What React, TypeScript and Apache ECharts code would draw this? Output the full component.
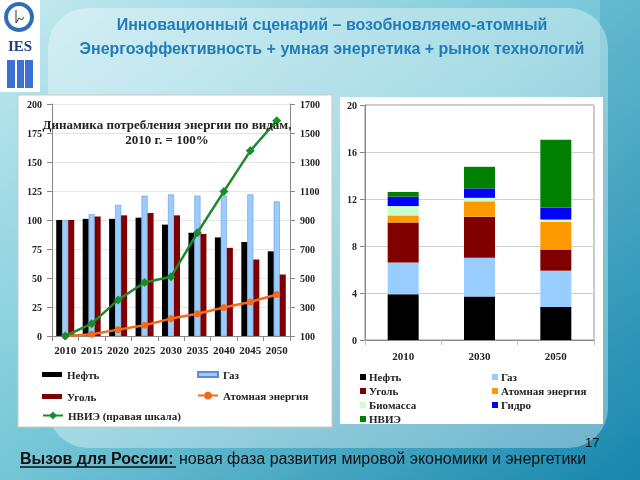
import React, { useEffect, useRef } from "react";
import * as echarts from "echarts";

const years = ["2010", "2015", "2020", "2025", "2030", "2035", "2040", "2045", "2050"];
const oil = [100, 101, 101, 102, 96, 89, 85, 81, 73];
const gas = [100, 105, 113, 121, 122, 121, 121, 122, 116];
const coal = [100, 103, 104, 106, 104, 88, 76, 66, 53];
const nuclear = [100, 112, 144, 174, 220, 254, 296, 335, 386];
const renew = [100, 185, 349, 469, 508, 812, 1097, 1377, 1585];

const leftTicks = [0, 200, 25];
const rightTicks = [100, 1700, 200];

const years3 = ["2010", "2030", "2050"];
const stackNames = ["Нефть", "Газ", "Уголь", "Атомная энергия", "Биомасса", "Гидро", "НВИЭ"];
const stackColors = ["#000000", "#99ccff", "#800000", "#ff9900", "#ccffcc", "#0000ff", "#008000"];
const oil2 = [3.9, 3.7, 2.8];
const gas2 = [2.7, 3.3, 3.1];
const coal2 = [3.4, 3.5, 1.8];
const nuc2 = [0.6, 1.3, 2.35];
const bio2 = [0.8, 0.3, 0.2];
const hydro2 = [0.8, 0.8, 1.0];
const renew2 = [0.4, 1.84, 5.8];
const stackData = [oil2, gas2, coal2, nuc2, bio2, hydro2, renew2];

const SERIF = '"Liberation Serif", "DejaVu Serif", serif';
const SANS = '"Liberation Sans", Arial, sans-serif';

export default function App() {
  const ref = useRef<HTMLDivElement>(null);
  useEffect(() => {
    if (!ref.current) return;
    const chart = echarts.init(ref.current, undefined, { renderer: "svg" });

    const axisLabel = { fontFamily: SERIF, fontWeight: "bold" as const, fontSize: 10, color: "#222" };
    const axisLine = { show: true, lineStyle: { color: "#888" } };

    const leftLegend = (name: string, left: number, top: number, icon?: string, w = 20, h = 5) => ({
      data: [icon ? { name, icon } : { name }],
      left,
      top,
      itemWidth: w,
      itemHeight: h,
      itemGap: 4,
      textStyle: { fontFamily: SERIF, fontWeight: "bold", fontSize: 11, color: "#222" },
      selectedMode: false,
    });

    const rightLegendCols = [360, 492];
    const rightLegendRows = [377, 391, 405, 419];
    const rightLegendGraphics: any[] = [];
    stackNames.forEach((n, i) => {
      const col = i % 2;
      const row = Math.floor(i / 2);
      const x = rightLegendCols[col];
      const y = rightLegendRows[row];
      rightLegendGraphics.push({
        type: "rect",
        shape: { x: x, y: y - 3, width: 6, height: 6 },
        style: { fill: stackColors[i] },
        z: 10,
      });
      rightLegendGraphics.push({
        type: "text",
        x: x + 9,
        y: y,
        style: {
          text: n,
          font: `bold 11px ${SERIF}`,
          fill: "#222",
          verticalAlign: "middle",
        },
        z: 10,
      });
    });

    const option: any = {
      animation: false,
      graphic: [
        {
          type: "rect",
          shape: { x: 0, y: 0, width: 640, height: 480 },
          style: {
            fill: new echarts.graphic.LinearGradient(0, 0, 1, 1, [
              { offset: 0, color: "#c4eaf0" },
              { offset: 0.5, color: "#74c6d6" },
              { offset: 1, color: "#1585ad" },
            ]),
          },
          z: -20,
        },
        {
          type: "rect",
          shape: { x: 600, y: 0, width: 40, height: 480 },
          style: { fill: "rgba(40,140,180,0.25)" },
          z: -19,
        },
        {
          type: "rect",
          shape: { x: 48, y: 8, width: 560, height: 440, r: 40 },
          style: { fill: "rgba(255,255,255,0.35)" },
          z: -18,
        },
        {
          type: "rect",
          shape: { x: 0, y: 0, width: 40, height: 92 },
          style: { fill: "#ffffff" },
          z: -17,
        },
        {
          type: "ring",
          shape: { cx: 19, cy: 17, r: 15, r0: 11 },
          style: { fill: "#2e6db8" },
          z: 5,
        },
        {
          type: "polyline",
          shape: { points: [[16, 10], [16, 23], [19, 18], [22, 20], [24, 17]] },
          style: { stroke: "#333", lineWidth: 1, fill: null },
          z: 5,
        },
        {
          type: "text",
          x: 20,
          y: 46,
          style: { text: "IES", font: `bold 15px ${SERIF}`, fill: "#1f3f7a", align: "center", verticalAlign: "middle" },
          z: 5,
        },
        { type: "rect", shape: { x: 7, y: 60, width: 8, height: 28 }, style: { fill: "#3d6fd6" }, z: 5 },
        { type: "rect", shape: { x: 17, y: 60, width: 7, height: 28 }, style: { fill: "#3d6fd6" }, z: 5 },
        { type: "rect", shape: { x: 25, y: 60, width: 8, height: 28 }, style: { fill: "#3d6fd6" }, z: 5 },
        {
          type: "text",
          x: 332,
          y: 24,
          style: {
            text: "Инновационный сценарий – возобновляемо-атомный",
            font: `bold 16px ${SANS}`,
            fill: "#1f7cb8",
            align: "center",
            verticalAlign: "middle",
          },
          z: 5,
        },
        {
          type: "text",
          x: 332,
          y: 48,
          style: {
            text: "Энергоэффективность + умная энергетика + рынок технологий",
            font: `bold 16px ${SANS}`,
            fill: "#1f7cb8",
            align: "center",
            verticalAlign: "middle",
          },
          z: 5,
        },
        {
          type: "rect",
          shape: { x: 18, y: 95, width: 314, height: 332 },
          style: { fill: "#ffffff", stroke: "#c8c8c8", lineWidth: 1 },
          z: -5,
        },
        {
          type: "rect",
          shape: { x: 340, y: 97, width: 263, height: 327 },
          style: { fill: "#ffffff" },
          z: -5,
        },
        {
          type: "text",
          x: 167,
          y: 124,
          style: {
            text: "Динамика потребления энергии по видам,",
            font: `bold 13px ${SERIF}`,
            fill: "#222",
            align: "center",
            verticalAlign: "middle",
          },
          z: 20,
        },
        {
          type: "text",
          x: 167,
          y: 139,
          style: {
            text: "2010 г. = 100%",
            font: `bold 13px ${SERIF}`,
            fill: "#222",
            align: "center",
            verticalAlign: "middle",
          },
          z: 20,
        },
        {
          type: "text",
          x: 20,
          y: 458,
          style: {
            text: "Вызов для России:",
            font: `bold 16px ${SANS}`,
            fill: "#111",
            verticalAlign: "middle",
          },
          z: 5,
        },
        {
          type: "line",
          shape: { x1: 20, y1: 467, x2: 176, y2: 467 },
          style: { stroke: "#111", lineWidth: 1.3 },
          z: 5,
        },
        {
          type: "text",
          x: 179,
          y: 458,
          style: {
            text: "новая фаза развития мировой экономики и энергетики",
            font: `16px ${SANS}`,
            fill: "#111",
            verticalAlign: "middle",
          },
          z: 5,
        },
        {
          type: "text",
          x: 585,
          y: 442,
          style: { text: "17", font: `13px ${SANS}`, fill: "#111", verticalAlign: "middle" },
          z: 5,
        },
        ...rightLegendGraphics,
      ],
      legend: [
        leftLegend("Нефть", 37, 364, "rect"),
        leftLegend("Газ", 192, 364, "rect"),
        leftLegend("Уголь", 37, 386, "rect"),
        leftLegend("Атомная энергия", 192, 385, undefined, 20, 10),
        leftLegend("НВИЭ (правая шкала)", 37, 405, undefined, 20, 10),
      ],
      grid: [
        { left: 52, right: 350, top: 104, bottom: 144 },
        { left: 365, right: 46, top: 105, bottom: 140, show: true, borderColor: "#999", borderWidth: 1 },
      ],
      xAxis: [
        {
          type: "category",
          gridIndex: 0,
          data: years,
          axisLine: axisLine,
          axisTick: { show: true, lineStyle: { color: "#888" } },
          axisLabel: { ...axisLabel, fontSize: 11, margin: 8, interval: 0 },
        },
        {
          type: "category",
          gridIndex: 1,
          data: years3,
          axisLine: axisLine,
          axisTick: { show: true, lineStyle: { color: "#bbb" } },
          axisLabel: { ...axisLabel, fontSize: 11, margin: 10 },
        },
      ],
      yAxis: [
        {
          type: "value",
          gridIndex: 0,
          min: leftTicks[0],
          max: leftTicks[1],
          interval: leftTicks[2],
          axisLine: axisLine,
          axisTick: { show: true, lineStyle: { color: "#888" } },
          axisLabel: { ...axisLabel, margin: 10 },
          splitLine: { show: true, lineStyle: { color: "#e6e6e6" } },
        },
        {
          type: "value",
          gridIndex: 0,
          position: "right",
          min: rightTicks[0],
          max: rightTicks[1],
          interval: rightTicks[2],
          axisLine: axisLine,
          axisTick: { show: true, lineStyle: { color: "#888" } },
          axisLabel: { ...axisLabel, margin: 10, formatter: (v: number) => String(v) },
          splitLine: { show: false },
        },
        {
          type: "value",
          gridIndex: 1,
          min: 0,
          max: 20,
          interval: 4,
          axisLine: axisLine,
          axisTick: { show: true, lineStyle: { color: "#888" } },
          axisLabel: { ...axisLabel, margin: 8 },
          splitLine: { show: true, lineStyle: { color: "#cfcfcf" } },
        },
      ],
      series: [
        {
          name: "Нефть",
          type: "bar",
          xAxisIndex: 0,
          yAxisIndex: 0,
          data: oil,
          barWidth: 6,
          barGap: "0%",
          itemStyle: { color: "#000000" },
        },
        {
          name: "Газ",
          type: "bar",
          xAxisIndex: 0,
          yAxisIndex: 0,
          data: gas,
          barWidth: 6,
          barGap: "0%",
          itemStyle: { color: "#99ccff", borderColor: "#5b8fd0", borderWidth: 0.5 },
        },
        {
          name: "Уголь",
          type: "bar",
          xAxisIndex: 0,
          yAxisIndex: 0,
          data: coal,
          barWidth: 6,
          barGap: "0%",
          itemStyle: { color: "#800000" },
        },
        {
          name: "Атомная энергия",
          type: "line",
          xAxisIndex: 0,
          yAxisIndex: 1,
          data: nuclear,
          symbol: "circle",
          symbolSize: 7,
          lineStyle: { color: "#f26b1d", width: 2.5 },
          itemStyle: { color: "#f26b1d" },
          z: 5,
        },
        {
          name: "НВИЭ (правая шкала)",
          type: "line",
          xAxisIndex: 0,
          yAxisIndex: 1,
          data: renew,
          symbol: "diamond",
          symbolSize: 9,
          lineStyle: { color: "#1d8a2e", width: 2.5 },
          itemStyle: { color: "#1d8a2e" },
          z: 6,
        },
        ...stackNames.map((n, i) => ({
          name: n,
          type: "bar",
          xAxisIndex: 1,
          yAxisIndex: 2,
          stack: "total",
          data: stackData[i],
          barWidth: 31,
          itemStyle: { color: stackColors[i] },
        })),
      ],
    };
    chart.setOption(option);
    return () => chart.dispose();
  }, []);
  return (
    <div
      ref={ref}
      style={{ position: "fixed", left: 0, top: 0, width: 640, height: 480 }}
    />
  );
}
